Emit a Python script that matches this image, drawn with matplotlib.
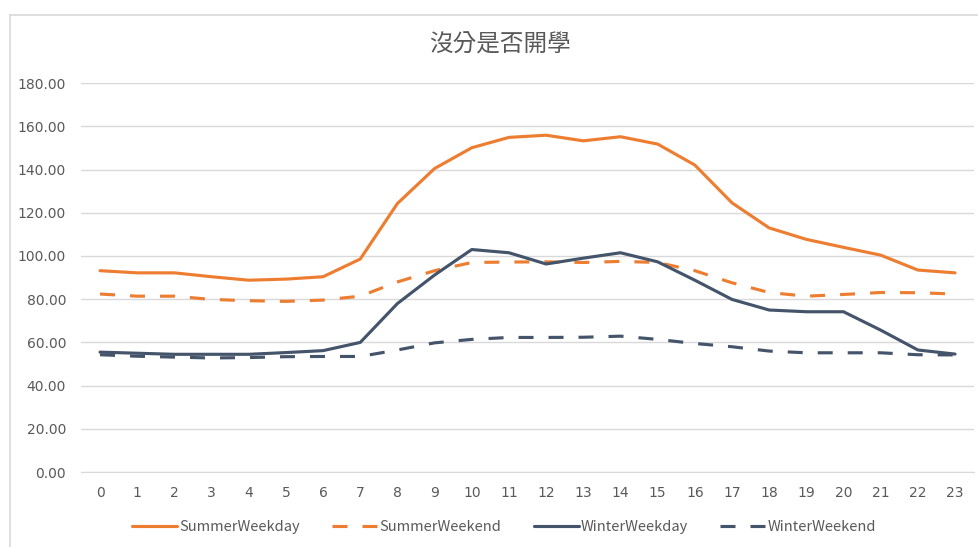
import numpy as np
import matplotlib
matplotlib.use('Agg')
import matplotlib.pyplot as plt
from matplotlib.lines import Line2D

plt.rcParams['font.family'] = ['Noto Sans CJK TC', 'DejaVu Sans']

# 資料
hours = list(range(24))
summer_weekday = [93.2, 92.2, 92.2, 90.4, 88.8, 89.3, 90.4, 98.6, 124.3, 140.5, 150.1, 154.9,
                  155.9, 153.3, 155.2, 151.8, 142.1, 124.6, 113.0, 107.7, 104.0, 100.4, 93.5, 92.2]
summer_weekend = [82.4, 81.4, 81.4, 79.9, 79.3, 79.0, 79.6, 81.4, 88.0, 93.2, 97.0, 97.2,
                  97.3, 97.0, 97.5, 97.0, 93.2, 87.6, 83.1, 81.4, 82.2, 83.1, 83.0, 82.4]
winter_weekday = [55.5, 55.0, 54.5, 54.5, 54.5, 55.3, 56.2, 60.0, 78.0, 91.2, 103.0, 101.5,
                  96.3, 99.0, 101.5, 97.3, 88.8, 79.9, 75.0, 74.2, 74.2, 65.7, 56.5, 54.6]
winter_weekend = [54.3, 53.6, 53.2, 52.8, 53.0, 53.4, 53.5, 53.5, 56.5, 59.8, 61.4, 62.3,
                  62.3, 62.4, 62.9, 61.4, 59.5, 58.0, 56.0, 55.2, 55.2, 55.2, 54.3, 54.2]
series = ['SummerWeekday', 'SummerWeekend', 'WinterWeekday', 'WinterWeekend']
yticks = [0, 20, 40, 60, 80, 100, 120, 140, 160, 180]

orange = '#ED7D31'
navy = '#44546A'
txt = '#595959'
dash = (0, (4.8, 4.8))

fig = plt.figure(figsize=(9.79, 5.47), dpi=100)
ax = fig.add_axes([0.0832, 0.137, 0.9113, 0.711])

ax.plot(hours, summer_weekday, color=orange, lw=2.25, label=series[0], solid_capstyle='round')
ax.plot(hours, summer_weekend, color=orange, lw=2.25, ls=dash, label=series[1])
ax.plot(hours, winter_weekday, color=navy, lw=2.25, label=series[2], solid_capstyle='round')
ax.plot(hours, winter_weekend, color=navy, lw=2.25, ls=dash, label=series[3])

ax.set_xlim(-0.5, 23.5)
ax.set_ylim(0, 180)
ax.set_xticks(hours)
ax.set_xticklabels([str(h) for h in hours])
ax.set_yticks(yticks)
ax.set_yticklabels(['%.2f' % v for v in yticks])
ax.tick_params(length=0, labelsize=10, colors=txt, pad=10)
ax.tick_params(axis='y', pad=11)
for lab in ax.get_xticklabels() + ax.get_yticklabels():
    lab.set_family('DejaVu Sans')
ax.grid(axis='y', color='#D9D9D9', lw=1)
ax.set_axisbelow(True)
for s in ['top', 'right', 'left']:
    ax.spines[s].set_visible(False)
ax.spines['bottom'].set_color('#D9D9D9')

fig.text(0.511, 0.917, '沒分是否開學', ha='center', va='center', fontsize=17,
         fontweight='light', color=txt)

fig.legend(loc='center', bbox_to_anchor=(0.515, 0.037), ncol=4, frameon=False,
           fontsize=10.5, handlelength=3.1, handletextpad=0.15, columnspacing=2.2,
           labelcolor=txt)

# 圖表外框 (只見上緣與左緣)
fig.add_artist(Line2D([0.0102, 1.0], [0.9726, 0.9726], transform=fig.transFigure,
                      color='#D9D9D9', lw=1.2))
fig.add_artist(Line2D([0.0102, 0.0102], [0.0, 0.9726], transform=fig.transFigure,
                      color='#D9D9D9', lw=1.2))

fig.savefig('out.png', dpi=100)
